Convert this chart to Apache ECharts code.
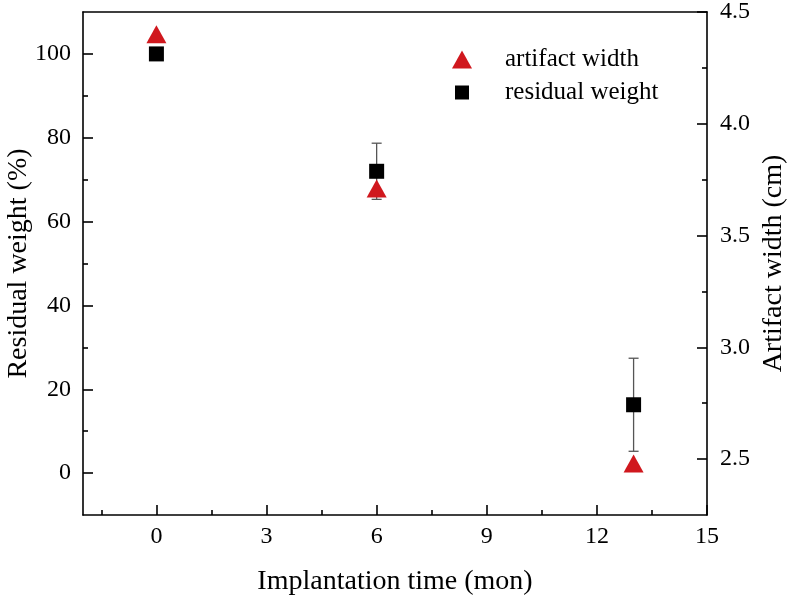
<!DOCTYPE html>
<html><head><meta charset="utf-8">
<script src="https://cdn.jsdelivr.net/npm/echarts@6/dist/echarts.min.js"></script>
<style>html,body{margin:0;padding:0;background:#fff}#c{width:791px;height:600px}</style>
</head><body><div id="c"></div>
<script>
const months = [0, 6, 13];
const residualWeight = [100, 72, 16.3];
const residualWeightErr = [0, 6.7, 11.1];
const artifactWidth = [4.40, 3.71, 2.48];
const xMajorTicks = [0, 3, 6, 9, 12, 15];
const xMinorTicks = [-1.5, 1.5, 4.5, 7.5, 10.5, 13.5];
const leftMajorTicks = [0, 20, 40, 60, 80, 100];
const leftMinorTicks = [10, 30, 50, 70, 90];
const rightMajorTicks = [2.5, 3.0, 3.5, 4.0, 4.5];
const rightMinorTicks = [2.75, 3.25, 3.75, 4.25];

const FONT = '"Liberation Serif", "Times New Roman", serif';
const chart = echarts.init(document.getElementById('c'));

function TK() { return { color: '#000', width: 1.6 }; }
function axis(opts) {
  return Object.assign({
    type: 'value', splitLine: { show: false },
    axisLine: { show: true, onZero: false, lineStyle: { color: '#000', width: 1.6 } },
    axisTick: { show: false }, axisLabel: { show: false }
  }, opts);
}
function tickAxis(min, max, pos, vals, len) {
  return axis({
    min: min, max: max, position: pos, axisLine: { show: false, onZero: false },
    axisTick: { show: true, inside: true, length: len, lineStyle: TK(), customValues: vals.slice() }
  });
}
function labelStyle(vals, margin, fmt) {
  const o = { show: true, customValues: vals.slice(), color: '#000', fontSize: 24, fontFamily: FONT, margin: margin };
  if (fmt) o.formatter = fmt;
  return o;
}
function nameStyle() { return { color: '#000', fontSize: 28, fontFamily: FONT }; }

const errData = months.map((m, i) => [m, residualWeight[i] - residualWeightErr[i], residualWeight[i] + residualWeightErr[i]])
  .filter((d, i) => residualWeightErr[i] > 0);

chart.setOption({
  animation: false,
  grid: { left: 83, right: 84, top: 12, bottom: 85, outerBoundsMode: 'none' },
  xAxis: [
    axis({ min: -2, max: 15, position: 'bottom',
      axisLabel: labelStyle(xMajorTicks, 10),
      name: 'Implantation time (mon)', nameLocation: 'middle', nameGap: 53, nameMoveOverlap: false,
      nameTextStyle: nameStyle() }),
    tickAxis(-2, 15, 'bottom', xMajorTicks, 10),
    tickAxis(-2, 15, 'bottom', xMinorTicks, 5),
    axis({ min: -2, max: 15, position: 'top' })
  ],
  yAxis: [
    axis({ min: -10, max: 110, position: 'left',
      axisLabel: labelStyle(leftMajorTicks, 12),
      name: 'Residual weight (%)', nameLocation: 'middle', nameGap: 50, nameMoveOverlap: false,
      nameTextStyle: nameStyle() }),
    axis({ min: 2.25, max: 4.5, position: 'right',
      axisLabel: labelStyle(rightMajorTicks, 13, v => Number(v).toFixed(1)),
      name: 'Artifact width (cm)', nameLocation: 'middle', nameGap: 53, nameMoveOverlap: false,
      nameTextStyle: nameStyle() }),
    tickAxis(-10, 110, 'left', leftMajorTicks, 10),
    tickAxis(-10, 110, 'left', leftMinorTicks, 5),
    tickAxis(2.25, 4.5, 'right', rightMajorTicks, 10),
    tickAxis(2.25, 4.5, 'right', rightMinorTicks, 5)
  ],
  legend: [
    {
      data: ['artifact width'], left: 452, top: 47, padding: 0,
      itemWidth: 20, itemHeight: 18,
      textStyle: { color: '#000', fontSize: 25, fontFamily: FONT, padding: [0, 0, 0, 28] }
    },
    {
      data: ['residual weight'], left: 455, top: 80, padding: 0,
      itemWidth: 14, itemHeight: 14,
      textStyle: { color: '#000', fontSize: 25, fontFamily: FONT, padding: [0, 0, 0, 31] }
    }
  ],
  series: [
    {
      type: 'custom', name: 'err', xAxisIndex: 0, yAxisIndex: 0, z: 1,
      data: errData,
      renderItem: function (params, api) {
        const x = api.value(0);
        const pLo = api.coord([x, api.value(1)]);
        const pHi = api.coord([x, api.value(2)]);
        const w = 5;
        return {
          type: 'group', children: [
            { type: 'line', shape: { x1: pHi[0], y1: pHi[1], x2: pLo[0], y2: pLo[1] }, style: { stroke: '#555', lineWidth: 1.3 } },
            { type: 'line', shape: { x1: pHi[0] - w, y1: pHi[1], x2: pHi[0] + w, y2: pHi[1] }, style: { stroke: '#555', lineWidth: 1.3 } },
            { type: 'line', shape: { x1: pLo[0] - w, y1: pLo[1], x2: pLo[0] + w, y2: pLo[1] }, style: { stroke: '#555', lineWidth: 1.3 } }
          ]
        };
      }
    },
    {
      type: 'scatter', name: 'residual weight', xAxisIndex: 0, yAxisIndex: 0, z: 2,
      symbol: 'rect', symbolSize: 15,
      itemStyle: { color: '#000', opacity: 1 },
      data: months.map((m, i) => [m, residualWeight[i]])
    },
    {
      type: 'scatter', name: 'artifact width', xAxisIndex: 0, yAxisIndex: 1, z: 3,
      symbol: 'triangle', symbolSize: [20, 18],
      itemStyle: { color: '#d0181e', opacity: 1 },
      data: months.map((m, i) => [m, artifactWidth[i]])
    }
  ]
});
</script>
</body></html>
